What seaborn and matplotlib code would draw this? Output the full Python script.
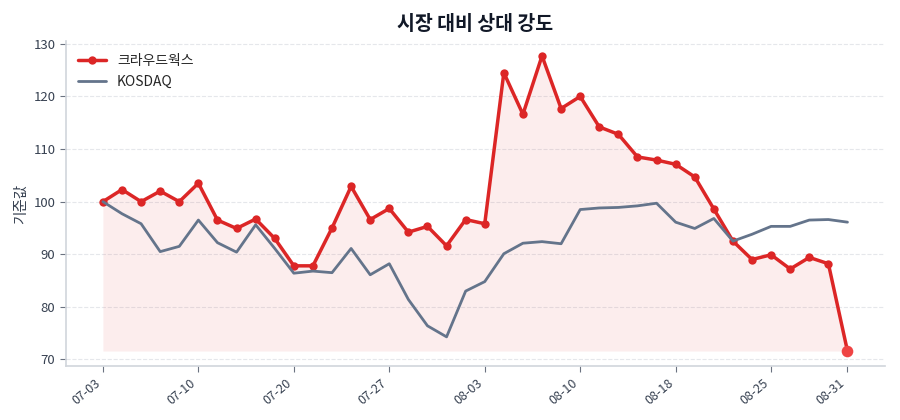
import pandas as pd
import matplotlib.pyplot as plt
import seaborn as sns

dates = ['07-03', '07-04', '07-05', '07-06', '07-07', '07-10', '07-12', '07-13', '07-14', '07-18',
         '07-20', '07-21', '07-24', '07-25', '07-26', '07-27', '07-28', '07-31', '08-01', '08-02',
         '08-03', '08-04', '08-07', '08-08', '08-09', '08-10', '08-11', '08-14', '08-16', '08-17',
         '08-18', '08-21', '08-22', '08-23', '08-24', '08-25', '08-28', '08-29', '08-30', '08-31']

crowdworks = [100.0, 102.3, 100.0, 102.0, 100.0, 103.5, 96.5, 94.9, 96.7, 93.0,
              87.8, 87.8, 95.0, 102.9, 96.6, 98.7, 94.2, 95.3, 91.6, 96.6,
              95.8, 124.5, 116.6, 127.7, 117.7, 120.0, 114.2, 112.8, 108.5, 107.9,
              107.1, 104.7, 98.6, 92.5, 89.0, 89.9, 87.2, 89.4, 88.2, 71.6]

kosdaq = [100.0, 97.7, 95.8, 90.5, 91.5, 96.5, 92.2, 90.4, 95.6, 91.1,
          86.4, 86.8, 86.5, 91.1, 86.1, 88.2, 81.4, 76.4, 74.3, 83.0,
          84.8, 90.1, 92.1, 92.4, 92.0, 98.5, 98.8, 98.9, 99.2, 99.7,
          96.1, 94.9, 96.8, 92.5, 93.8, 95.3, 95.3, 96.5, 96.6, 96.1]

df = pd.DataFrame({'date': dates, 'crowdworks': crowdworks, 'kosdaq': kosdaq})
df['idx'] = range(len(df))

sns.set_theme(style='white')
plt.rcParams['font.family'] = ['Noto Sans CJK KR', 'DejaVu Sans']

red = '#dc2626'
gray = '#64748b'

fig, ax = plt.subplots(figsize=(9, 4.2), dpi=100)
fig.subplots_adjust(left=0.073, right=0.983, bottom=0.129, top=0.902)

# shaded area under the stock line
ax.fill_between(df['idx'], df['crowdworks'], df['crowdworks'].min(), color=red, alpha=0.08, linewidth=0)

sns.lineplot(data=df, x='idx', y='crowdworks', ax=ax, color=red, linewidth=2.5,
             marker='o', markersize=6, markeredgewidth=0, label='크라우드웍스')
sns.lineplot(data=df, x='idx', y='kosdaq', ax=ax, color=gray, linewidth=2, label='KOSDAQ')

# highlight last point
last = df.iloc[-1]
ax.scatter([last['idx']], [last['crowdworks']], s=70, color='#ef4444', zorder=5, linewidths=0)

ticks = list(range(0, len(df), 5))
if ticks[-1] != len(df) - 1:
    ticks.append(len(df) - 1)
ax.set_xticks(ticks)
ax.set_xticklabels([dates[i] for i in ticks], rotation=40, ha='right', fontsize=9, color='#374151')
ax.tick_params(axis='y', labelsize=9.5, colors='#374151')
ax.tick_params(axis='both', length=4, width=0.8, color='#6b7280', bottom=True, left=True)

ax.set_xlabel('')
ax.set_ylabel('기준값', fontsize=10.5, color='#374151')
ax.set_title('시장 대비 상대 강도', fontsize=14, fontweight='bold', color='#111827', pad=8)

ax.yaxis.grid(True, linestyle='--', color='#e5e7eb', linewidth=0.8)
ax.set_axisbelow(True)
sns.despine(ax=ax)
for s in ['left', 'bottom']:
    ax.spines[s].set_color('#d1d5db')
    ax.spines[s].set_linewidth(1.2)

ax.legend(loc='upper left', frameon=False, fontsize=10)

plt.savefig('out.png', dpi=100)
